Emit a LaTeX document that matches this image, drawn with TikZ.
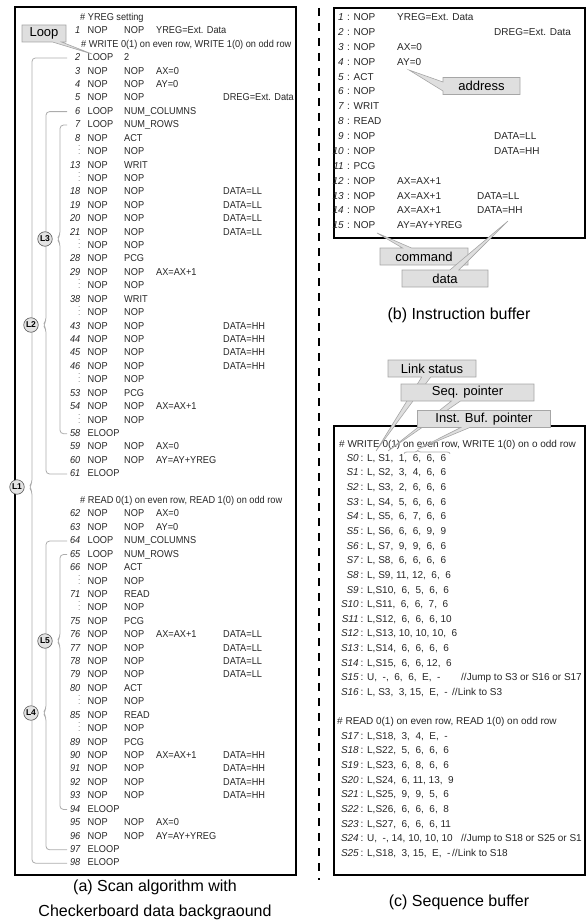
\documentclass[tikz,border=0pt]{standalone}
\usepackage{fontspec}
\setmainfont{Liberation Sans}
\newfontfamily\narrowsans{Liberation Sans}[FakeStretch=0.92]
\usetikzlibrary{calc,shapes.callouts,decorations.pathreplacing}
\newcommand{\vd}{{\fontsize{7}{7}\selectfont$\vdots$}}

\begin{document}
\begin{tikzpicture}[x=1pt,y=-1pt, every node/.style={inner sep=0pt},
  row/.style={text height=7.4pt,text depth=2pt,text=black!85},
  lna/.style={anchor=east,font=\narrowsans\itshape\fontsize{10}{12}\selectfont},
  txa/.style={anchor=west,font=\narrowsans\fontsize{10}{12}\selectfont},
  lnb/.style={anchor=east,font=\itshape\fontsize{10}{12}\selectfont},
  txb/.style={anchor=west,font=\fontsize{10}{12}\selectfont},
  frame/.style={draw=black,line width=1.4pt},
  brk/.style={draw=gray!65,line width=.8pt,rounded corners=3.5pt},
  lcirc/.style={circle,draw=gray!70!black,fill=gray!22,line width=.6pt,minimum size=14.5pt,font=\bfseries\fontsize{8.5}{8.5}\selectfont},
  callbox/.style={rectangle callout,draw=gray!70,fill=gray!25,line width=.6pt,minimum height=17pt,callout pointer width=9pt,font=\fontsize{13}{13}\selectfont},
  captxt/.style={align=center,font=\fontsize{16}{25}\selectfont}]
\useasboundingbox (0,0) rectangle (586,920);

% (a) scan algorithm
\draw[frame] (15,7) rectangle (296,875);
\node[txa,row] (ca0) at (80,17.7) {\# YREG setting};
\node[txa,row] (ca2) at (81,{17.7+13.42*2}) {\# WRITE 0(1) on even row, WRITE 1(0) on odd row};
\node[txa,row] (ca36) at (80,{17.7+13.42*36}) {\# READ 0(1) on even row, READ 1(0) on odd row};
\foreach \k/\lab/\ca/\cb/\cc/\cd in {
  1/1/NOP/NOP/{YREG=Ext. Data}/{}, 3/2/LOOP/2/{}/{}, 4/3/NOP/NOP/{AX=0}/{},
  5/4/NOP/NOP/{AY=0}/{}, 6/5/NOP/NOP/{}/{DREG=Ext. Data},
  7/6/LOOP/NUM\_COLUMNS/{}/{}, 8/7/LOOP/NUM\_ROWS/{}/{}, 9/8/NOP/ACT/{}/{},
  10/\vd/NOP/NOP/{}/{}, 11/13/NOP/WRIT/{}/{}, 12/\vd/NOP/NOP/{}/{},
  13/18/NOP/NOP/{}/{DATA=LL}, 14/19/NOP/NOP/{}/{DATA=LL}, 15/20/NOP/NOP/{}/{DATA=LL},
  16/21/NOP/NOP/{}/{DATA=LL}, 17/\vd/NOP/NOP/{}/{}, 18/28/NOP/PCG/{}/{},
  19/29/NOP/NOP/{AX=AX+1}/{}, 20/\vd/NOP/NOP/{}/{}, 21/38/NOP/WRIT/{}/{},
  22/\vd/NOP/NOP/{}/{}, 23/43/NOP/NOP/{}/{DATA=HH}, 24/44/NOP/NOP/{}/{DATA=HH},
  25/45/NOP/NOP/{}/{DATA=HH}, 26/46/NOP/NOP/{}/{DATA=HH}, 27/\vd/NOP/NOP/{}/{},
  28/53/NOP/PCG/{}/{}, 29/54/NOP/NOP/{AX=AX+1}/{}, 30/\vd/NOP/NOP/{}/{},
  31/58/ELOOP/{}/{}/{}, 32/59/NOP/NOP/{AX=0}/{}, 33/60/NOP/NOP/{AY=AY+YREG}/{},
  34/61/ELOOP/{}/{}/{},
  37/62/NOP/NOP/{AX=0}/{}, 38/63/NOP/NOP/{AY=0}/{}, 39/64/LOOP/NUM\_COLUMNS/{}/{},
  40/65/LOOP/NUM\_ROWS/{}/{}, 41/66/NOP/ACT/{}/{}, 42/\vd/NOP/NOP/{}/{},
  43/71/NOP/READ/{}/{}, 44/\vd/NOP/NOP/{}/{}, 45/75/NOP/PCG/{}/{},
  46/76/NOP/NOP/{AX=AX+1}/{DATA=LL}, 47/77/NOP/NOP/{}/{DATA=LL}, 48/78/NOP/NOP/{}/{DATA=LL},
  49/79/NOP/NOP/{}/{DATA=LL}, 50/80/NOP/ACT/{}/{}, 51/\vd/NOP/NOP/{}/{},
  52/85/NOP/READ/{}/{}, 53/\vd/NOP/NOP/{}/{}, 54/89/NOP/PCG/{}/{},
  55/90/NOP/NOP/{AX=AX+1}/{DATA=HH}, 56/91/NOP/NOP/{}/{DATA=HH}, 57/92/NOP/NOP/{}/{DATA=HH},
  58/93/NOP/NOP/{}/{DATA=HH}, 59/94/ELOOP/{}/{}/{}, 60/95/NOP/NOP/{AX=0}/{},
  61/96/NOP/NOP/{AY=AY+YREG}/{}, 62/97/ELOOP/{}/{}/{}, 63/98/ELOOP/{}/{}/{}}{
  \node[lna,row] (a\k) at (80.5,{17.7+13.42*\k}) {\lab};
  \node[txa,row] (op\k) at (87.5,{17.7+13.42*\k}) {\ca};
  \node[txa,row] (ar\k) at (124,{17.7+13.42*\k}) {\cb};
  \node[txa,row] (ex\k) at (156,{17.7+13.42*\k}) {\cc};
  \node[txa,row] (dt\k) at (223,{17.7+13.42*\k}) {\cd};
}
% loop brackets
\coordinate (bx) at (67,0);
\foreach \lid/\rt/\rb/\x/\y in {1/3/63/17/487, 2/7/34/31/325, 3/8/31/45/239, 4/39/62/31/713, 5/40/59/45/641}{
  \coordinate (k\lid) at (\x,\y);
  \draw[brk] (a\rt.west -| bx) -| ($(k\lid)+(15,-4)$) -- ($(k\lid)+(12,0)$)
    -- ($(k\lid)+(15,4)$) |- (a\rb.west -| bx);
}
\foreach \lid in {1,...,5}
  \node[lcirc] (L\lid) at (k\lid) {L\lid};
\coordinate (looptip) at (92,54);
\node[callbox,minimum width=44pt,callout absolute pointer={(looptip)}] (loop) at (44,33.5) {Loop};
\node[captxt] (capa) at (155,899.5) {(a) Scan algorithm with\\Checkerboard data backgraound};

\draw[line width=1.8pt,dash pattern=on 8pt off 7pt] (319,8) -- (319,880);

% (b) instruction buffer
\draw[frame] (334,8) rectangle (585,238);
\foreach \i/\op/\ex/\dt/\dx in {
  1/NOP/{YREG=Ext. Data}/{}/494, 2/NOP/{}/{DREG=Ext. Data}/494, 3/NOP/{AX=0}/{}/494,
  4/NOP/{AY=0}/{}/494, 5/ACT/{}/{}/494, 6/NOP/{}/{}/494, 7/WRIT/{}/{}/494,
  8/READ/{}/{}/494, 9/NOP/{}/{DATA=LL}/494, 10/NOP/{}/{DATA=HH}/494, 11/PCG/{}/{}/494,
  12/NOP/{AX=AX+1}/{}/494, 13/NOP/{AX=AX+1}/{DATA=LL}/477, 14/NOP/{AX=AX+1}/{DATA=HH}/477,
  15/NOP/{AY=AY+YREG}/{}/477}{
  \node[lnb,row] (b\i) at (344,{18+14.86*(\i-1)}) {\i};
  \node[txb,row] (bo\i) at (347,{18+14.86*(\i-1)}) {: \op};
  \node[txb,row] (be\i) at (397,{18+14.86*(\i-1)}) {\ex};
  \node[txb,row] (bd\i) at (\dx,{18+14.86*(\i-1)}) {\dt};
}
\coordinate (adtip) at (409,70);
\node[callbox,minimum width=77pt,callout absolute pointer={(adtip)}] (addr) at (481.5,86) {address};
\coordinate (cmdtip) at (377,233);
\node[callbox,minimum width=88pt,callout absolute pointer={(cmdtip)}] (cmd) at (424,256.5) {command};
\coordinate (dattip) at (508,221);
\node[callbox,minimum width=86pt,callout absolute pointer={(dattip)}] (dat) at (445,278.5) {data};
\node[captxt] (capb) at (459,315) {(b) Instruction buffer};

% (c) sequence buffer
\draw[frame] (334,426) rectangle (585,875);
\node[txb,row] (cw) at (339,444.5) {\# WRITE 0(1) on even row, WRITE 1(0) on o odd row};
\node[txb,row] (cr) at (337,{444+14.63*19}) {\# READ 0(1) on even row, READ 1(0) on odd row};
\foreach \k/\s/\v in {
  1/0/{L, S1,\ \ 1,\ \ 6,\ \ 6,\ \ 6}, 2/1/{L, S2,\ \ 3,\ \ 4,\ \ 6,\ \ 6},
  3/2/{L, S3,\ \ 2,\ \ 6,\ \ 6,\ \ 6}, 4/3/{L, S4,\ \ 5,\ \ 6,\ \ 6,\ \ 6},
  5/4/{L, S5,\ \ 6,\ \ 7,\ \ 6,\ \ 6}, 6/5/{L, S6,\ \ 6,\ \ 6,\ \ 9,\ \ 9},
  7/6/{L, S7,\ \ 9,\ \ 9,\ \ 6,\ \ 6}, 8/7/{L, S8,\ \ 6,\ \ 6,\ \ 6,\ \ 6},
  9/8/{L, S9, 11, 12,\ \ 6,\ \ 6}, 10/9/{L,S10,\ \ 6,\ \ 5,\ \ 6,\ \ 6},
  11/10/{L,S11,\ \ 6,\ \ 6,\ \ 7,\ \ 6}, 12/11/{L,S12,\ \ 6,\ \ 6,\ \ 6, 10},
  13/12/{L,S13, 10, 10, 10,\ \ 6}, 14/13/{L,S14,\ \ 6,\ \ 6,\ \ 6,\ \ 6},
  15/14/{L,S15,\ \ 6,\ \ 6, 12,\ \ 6}, 16/15/{U,\ \ -,\ \ 6,\ \ 6,\ \ E,\ \ -},
  17/16/{L, S3,\ \ 3, 15,\ \ E,\ \ -}, 20/17/{L,S18,\ \ 3,\ \ 4,\ \ E,\ \ -},
  21/18/{L,S22,\ \ 5,\ \ 6,\ \ 6,\ \ 6}, 22/19/{L,S23,\ \ 6,\ \ 8,\ \ 6,\ \ 6},
  23/20/{L,S24,\ \ 6, 11, 13,\ \ 9}, 24/21/{L,S25,\ \ 9,\ \ 9,\ \ 5,\ \ 6},
  25/22/{L,S26,\ \ 6,\ \ 6,\ \ 6,\ \ 8}, 26/23/{L,S27,\ \ 6,\ \ 6,\ \ 6, 11},
  27/24/{U,\ \ -, 14, 10, 10, 10}, 28/25/{L,S18,\ \ 3, 15,\ \ E,\ \ -}}{
  \node[lnb,row] (s\s) at (359,{444+14.63*\k}) {S\s};
  \node[txb,row] (sv\s) at (360.5,{444+14.63*\k}) {: \v};
}
\node[txb,row] (j15) at (461,{444+14.63*16}) {//Jump to S3 or S16 or S17};
\node[txb,row] (j16) at (452,{444+14.63*17}) {//Link to S3};
\node[txb,row] (j24) at (461,{444+14.63*27}) {//Jump to S18 or S25 or S1};
\node[txb,row] (j25) at (452,{444+14.63*28}) {//Link to S18};
\coordinate (lstip) at (376,451);
\node[callbox,minimum width=88pt,callout absolute pointer={(lstip)}] (lnk) at (432,368.5) {Link status};
\coordinate (sqtip) at (388,451);
\node[callbox,minimum width=133pt,callout absolute pointer={(sqtip)}] (seq) at (467.5,392.5) {Seq. pointer};
\draw[brk,rounded corners=0pt,decorate,decoration={brace,amplitude=3pt,aspect=.3}] (404,453.5) -- (450,453.5);
\coordinate (ibtip) at (418,449);
\node[callbox,minimum width=133pt,callout absolute pointer={(ibtip)}] (ibp) at (484,419) {Inst. Buf. pointer};
\node[captxt] (capc) at (459,902) {(c) Sequence buffer};
\end{tikzpicture}
\end{document}
